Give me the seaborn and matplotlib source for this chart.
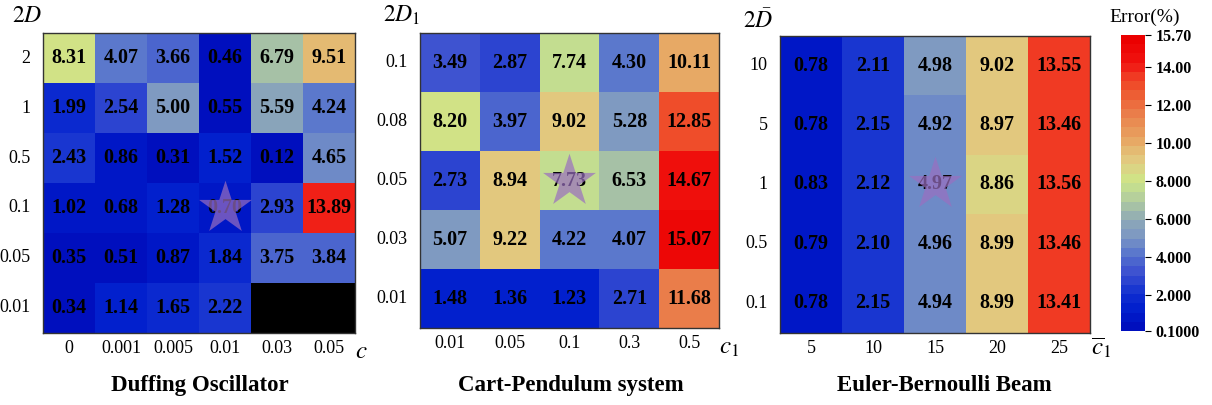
import numpy as np
import pandas as pd
import matplotlib
matplotlib.use("Agg")
import matplotlib.pyplot as plt
from matplotlib.colors import LinearSegmentedColormap, ListedColormap
import seaborn as sns

# ---- data ----
duff_cols = ["0", "0.001", "0.005", "0.01", "0.03", "0.05"]
duff_rows = ["2", "1", "0.5", "0.1", "0.05", "0.01"]
duff_vals = [
    [8.31, 4.07, 3.66, 0.46, 6.79, 9.51],
    [1.99, 2.54, 5.00, 0.55, 5.59, 4.24],
    [2.43, 0.86, 0.31, 1.52, 0.12, 4.65],
    [1.02, 0.68, 1.28, 0.70, 2.93, 13.89],
    [0.35, 0.51, 0.87, 1.84, 3.75, 3.84],
    [0.34, 1.14, 1.65, 2.22, np.nan, np.nan],
]
duff_star = ("0.1", "0.01")

cart_cols = ["0.01", "0.05", "0.1", "0.3", "0.5"]
cart_rows = ["0.1", "0.08", "0.05", "0.03", "0.01"]
cart_vals = [
    [3.49, 2.87, 7.74, 4.30, 10.11],
    [8.20, 3.97, 9.02, 5.28, 12.85],
    [2.73, 8.94, 7.73, 6.53, 14.67],
    [5.07, 9.22, 4.22, 4.07, 15.07],
    [1.48, 1.36, 1.23, 2.71, 11.68],
]
cart_star = ("0.05", "0.1")

beam_cols = ["5", "10", "15", "20", "25"]
beam_rows = ["10", "5", "1", "0.5", "0.1"]
beam_vals = [
    [0.78, 2.11, 4.98, 9.02, 13.55],
    [0.78, 2.15, 4.92, 8.97, 13.46],
    [0.83, 2.12, 4.97, 8.86, 13.56],
    [0.79, 2.10, 4.96, 8.99, 13.46],
    [0.78, 2.15, 4.94, 8.99, 13.41],
]
beam_star = ("1", "15")

vmin, vmax = 0.1, 15.7
cbar_ticks = [0.1, 2, 4, 6, 8, 10, 12, 14, 15.7]
cbar_labels = ["0.1000", "2.000", "4.000", "6.000", "8.000", "10.00", "12.00", "14.00", "15.70"]

# ---- colormap: desaturated jet-like, 32 bands ----
anchors = [
    (0.1, (0, 15, 190)), (1.0, (0, 30, 205)), (2.0, (20, 50, 208)),
    (3.0, (60, 80, 208)), (4.0, (85, 115, 205)), (5.0, (125, 152, 195)),
    (6.0, (145, 172, 180)), (7.0, (178, 205, 158)), (8.0, (205, 230, 135)),
    (9.0, (225, 205, 130)), (10.0, (230, 175, 105)), (11.0, (233, 145, 85)),
    (12.0, (235, 115, 68)), (13.0, (238, 85, 45)), (13.5, (240, 65, 38)),
    (14.0, (240, 45, 30)), (14.5, (240, 18, 15)), (15.7, (235, 0, 0)),
]
smooth = LinearSegmentedColormap.from_list(
    "err", [((v - vmin) / (vmax - vmin), tuple(c / 255 for c in rgb)) for v, rgb in anchors])
cmap = ListedColormap(smooth(np.linspace(0, 1, 32)))

plt.rcParams["font.family"] = ["Liberation Serif", "DejaVu Serif"]
plt.rcParams["mathtext.fontset"] = "stix"

fig = plt.figure(figsize=(12.12, 4.05), dpi=100)
ax1 = fig.add_axes([0.0355, 0.1778, 0.2574, 0.7407])
ax2 = fig.add_axes([0.3465, 0.1901, 0.2467, 0.7284])
ax3 = fig.add_axes([0.6436, 0.1778, 0.2558, 0.7333])
cax = fig.add_axes([0.9249, 0.1827, 0.0198, 0.7309])

# axis, values, rows, cols, star, title, title x, y label pos, x label pos
panels = [
    (ax1, duff_vals, duff_rows, duff_cols, duff_star, "Duffing Oscillator", 0.165,
     r"$2D$", (-0.05, 1.02), r"$c$", (1.02, -0.065)),
    (ax2, cart_vals, cart_rows, cart_cols, cart_star, "Cart-Pendulum system", 0.471,
     r"$2D_1$", (-0.06, 1.02), r"$c_1$", (1.035, -0.068)),
    (ax3, beam_vals, beam_rows, beam_cols, beam_star, "Euler-Bernoulli Beam", 0.779,
     r"$2\bar{D}$", (-0.07, 1.01), r"$\overline{c}_1$", (1.035, -0.05)),
]

for i, (ax, vals, rows, cols, star, title, tx, ylab, ypos, xlab, xpos) in enumerate(panels):
    df = pd.DataFrame(vals, index=rows, columns=cols)
    last = i == 2
    sns.heatmap(df, ax=ax, cmap=cmap, vmin=vmin, vmax=vmax, annot=True, fmt=".2f",
                annot_kws={"weight": "bold", "size": 14.5, "color": "black"},
                cbar=last, cbar_ax=cax if last else None)
    ax.set_facecolor("black")
    ax.tick_params(axis="y", length=0, labelsize=13, pad=9)
    ax.tick_params(axis="x", length=0, labelsize=13, pad=5)
    ax.set_yticklabels(rows, rotation=0)
    ax.set_xticklabels(cols, rotation=0)
    for s in ax.spines.values():
        s.set_visible(True)
        s.set_color("#333333")
        s.set_linewidth(1.0)
    # star marker at the chosen parameter pair
    ax.scatter(cols.index(star[1]) + 0.5, rows.index(star[0]) + 0.5, marker="*", s=1600,
               color="#9a6fc0", alpha=0.7, linewidths=0, zorder=5)
    ax.text(ypos[0], ypos[1], ylab, transform=ax.transAxes, fontsize=17, ha="center", va="bottom")
    ax.text(xpos[0], xpos[1], xlab, transform=ax.transAxes, fontsize=18, ha="center", va="center")
    ax.set_xlabel("")
    ax.set_ylabel("")
    fig.text(tx, 0.049, title, fontsize=16.5, fontweight="bold", ha="center", va="center")

cb = ax3.collections[0].colorbar
cb.set_ticks(cbar_ticks)
cb.set_ticklabels(cbar_labels)
cb.ax.tick_params(labelsize=11.5, length=4, width=0.8)
for t in cb.ax.get_yticklabels():
    t.set_fontweight("bold")
cb.outline.set_edgecolor("#333333")
cax.text(1.0, 1.03, "Error(%)", transform=cax.transAxes, fontsize=14, ha="center", va="bottom")

fig.savefig("out.png", dpi=100, facecolor="white")
